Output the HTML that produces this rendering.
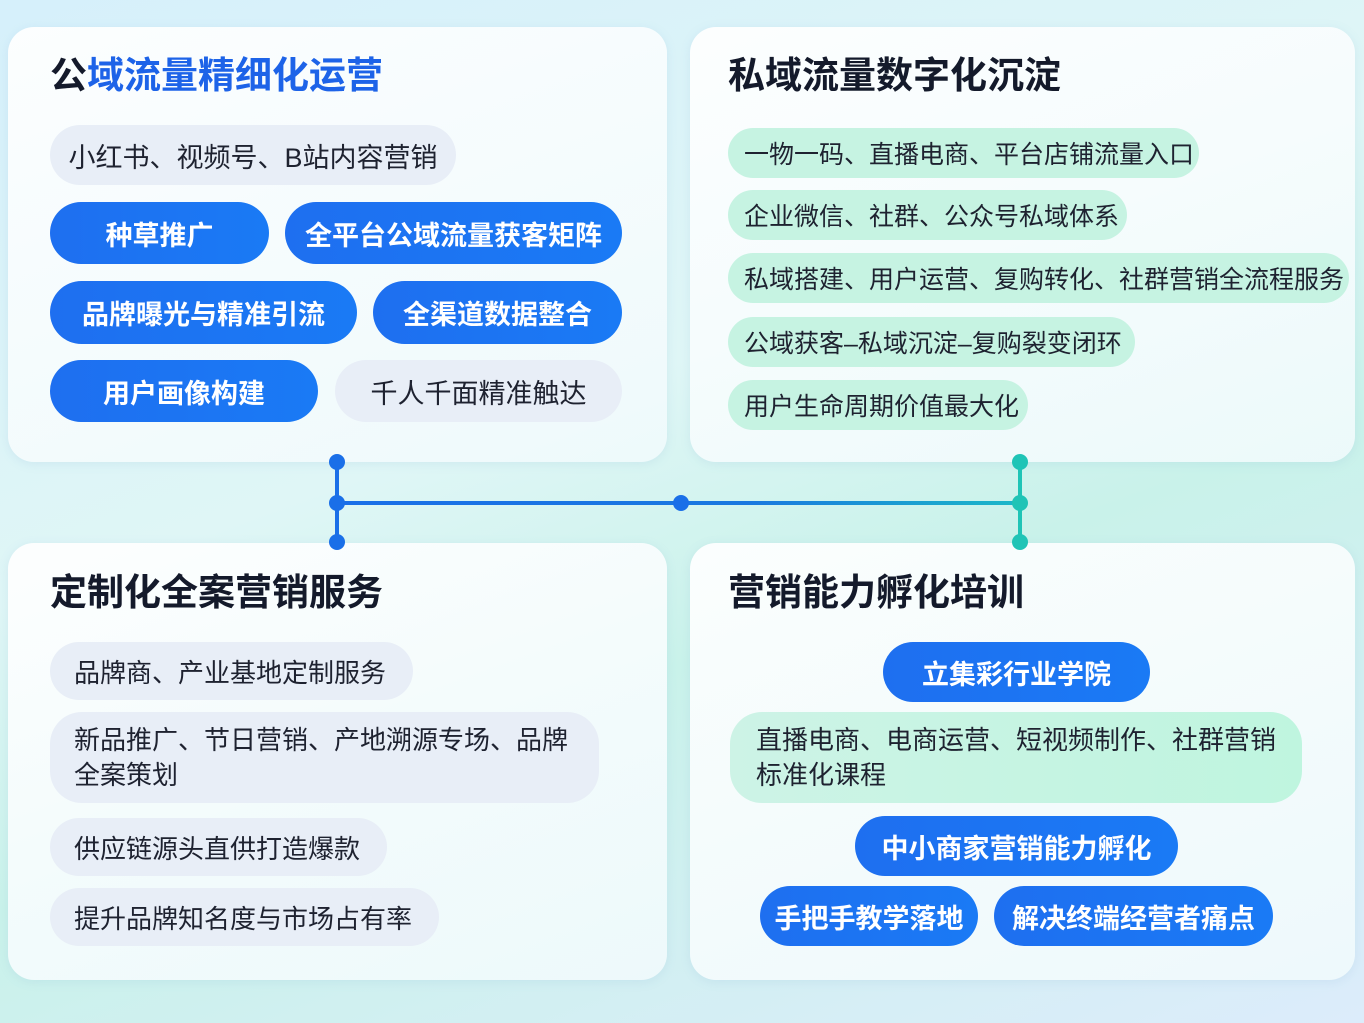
<!DOCTYPE html>
<html><head><meta charset="utf-8"><style>
*{margin:0;padding:0;box-sizing:border-box}
body{width:1364px;height:1023px;overflow:hidden;position:relative;font-family:"Liberation Sans","Noto Sans CJK SC",sans-serif;
background:linear-gradient(160deg,#d6f0fb 0%,#dff6f6 40%,#c9f2ea 60%,#dcecfb 100%);}
.card{position:absolute;border-radius:26px;background:linear-gradient(160deg,rgba(255,255,255,0.92),rgba(240,250,252,0.9));box-shadow:0 2px 10px rgba(120,170,210,0.15)}
.t{position:absolute;font-size:37px;font-weight:bold;color:#141a2b;white-space:nowrap;letter-spacing:0px}
.p{position:absolute;border-radius:32px;display:flex;align-items:center;justify-content:center;font-size:27px;white-space:nowrap}
.b{background:linear-gradient(90deg,#1e6ff0,#1a7af5);color:#fff;font-weight:bold}
.g{background:#e8eef7;color:#1e2230}
.gr{background:#c6f3e2;color:#1e2230;justify-content:flex-start;padding-left:16px;font-size:25px}
.l{justify-content:flex-start;padding-left:24px}
</style></head><body>
<div class="card" style="left:8px;top:27px;width:659px;height:435px"></div>
<div class="card" style="left:690px;top:27px;width:665px;height:435px"></div>
<div class="card" style="left:8px;top:543px;width:659px;height:437px"></div>
<div class="card" style="left:690px;top:543px;width:665px;height:437px"></div>

<div class="t" style="left:50px;top:45px"><span>公</span><span style="color:#1d63e8">域流量精细化运营</span></div>
<div class="p g" style="left:50px;top:125px;width:406px;height:60px">小红书、视频号、B站内容营销</div>
<div class="p b" style="left:50px;top:202px;width:219px;height:62px">种草推广</div>
<div class="p b" style="left:285px;top:202px;width:337px;height:62px">全平台公域流量获客矩阵</div>
<div class="p b" style="left:50px;top:281px;width:307px;height:63px">品牌曝光与精准引流</div>
<div class="p b" style="left:373px;top:281px;width:249px;height:63px">全渠道数据整合</div>
<div class="p b" style="left:50px;top:360px;width:268px;height:62px">用户画像构建</div>
<div class="p g" style="left:335px;top:360px;width:287px;height:62px">千人千面精准触达</div>

<div class="t" style="left:728px;top:45px">私域流量数字化沉淀</div>
<div class="p gr" style="left:728px;top:128px;width:471px;height:50px">一物一码、直播电商、平台店铺流量入口</div>
<div class="p gr" style="left:728px;top:190px;width:399px;height:50px">企业微信、社群、公众号私域体系</div>
<div class="p gr" style="left:728px;top:253px;width:621px;height:50px">私域搭建、用户运营、复购转化、社群营销全流程服务</div>
<div class="p gr" style="left:728px;top:317px;width:407px;height:50px">公域获客–私域沉淀–复购裂变闭环</div>
<div class="p gr" style="left:728px;top:380px;width:300px;height:50px">用户生命周期价值最大化</div>

<div class="t" style="left:50px;top:562px">定制化全案营销服务</div>
<div class="p g l" style="left:50px;top:642px;width:363px;height:58px;font-size:26px">品牌商、产业基地定制服务</div>
<div class="p g l" style="left:50px;top:712px;width:549px;height:91px;font-size:26px;white-space:normal;line-height:35px;padding-right:20px">新品推广、节日营销、产地溯源专场、品牌全案策划</div>
<div class="p g l" style="left:50px;top:818px;width:337px;height:58px;font-size:26px">供应链源头直供打造爆款</div>
<div class="p g l" style="left:50px;top:888px;width:389px;height:58px;font-size:26px">提升品牌知名度与市场占有率</div>

<div class="t" style="left:728px;top:562px">营销能力孵化培训</div>
<div class="p b" style="left:883px;top:642px;width:267px;height:60px">立集彩行业学院</div>
<div class="p gr" style="left:730px;top:712px;width:572px;height:91px;font-size:26px;white-space:normal;line-height:35px;padding-left:26px;padding-right:20px;background:linear-gradient(90deg,#cdf3e6,#bff5df)">直播电商、电商运营、短视频制作、社群营销标准化课程</div>
<div class="p b" style="left:855px;top:816px;width:323px;height:60px">中小商家营销能力孵化</div>
<div class="p b" style="left:760px;top:886px;width:218px;height:60px">手把手教学落地</div>
<div class="p b" style="left:994px;top:886px;width:279px;height:60px">解决终端经营者痛点</div>

<svg style="position:absolute;left:0;top:0" width="1364" height="1023">
<defs><linearGradient id="h" gradientUnits="userSpaceOnUse" x1="337" y1="0" x2="1020" y2="0"><stop offset="0" stop-color="#1a6fe8"/><stop offset="0.6" stop-color="#1a78e0"/><stop offset="1" stop-color="#1bb8c8"/></linearGradient></defs>
<line x1="337" y1="462" x2="337" y2="542" stroke="#1a6fe8" stroke-width="4"/>
<line x1="337" y1="503" x2="1020" y2="503" stroke="url(#h)" stroke-width="4"/>
<line x1="1020" y1="462" x2="1020" y2="542" stroke="#1fc4b6" stroke-width="4"/>
<g fill="#1a6fe8"><circle cx="337" cy="462" r="8"/><circle cx="337" cy="503" r="8"/><circle cx="337" cy="542" r="8"/><circle cx="681" cy="503" r="8"/></g>
<g fill="#1fc4b6"><circle cx="1020" cy="462" r="8"/><circle cx="1020" cy="503" r="8"/><circle cx="1020" cy="542" r="8"/></g>
</svg>
</body></html>
